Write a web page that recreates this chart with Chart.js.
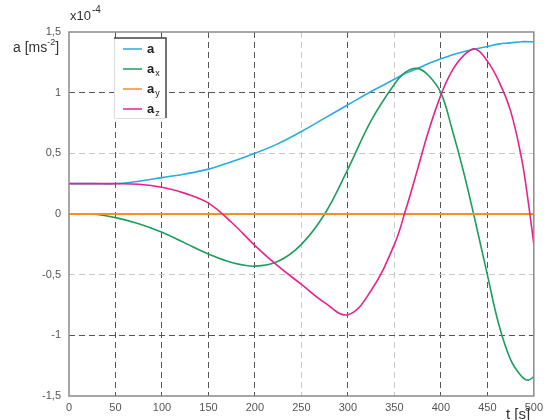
<!DOCTYPE html>
<html>
<head>
<meta charset="utf-8">
<script src="https://cdn.jsdelivr.net/npm/chart.js@4/dist/chart.umd.min.js"></script>
<style>
	body { margin: 0; background: #fff; }
	#wrap { width: 548px; height: 420px; }
</style>
</head>
<body>
<div id="wrap"><canvas id="chart" width="548" height="420"></canvas></div>
<script>
// time samples [s]
const T = [0, 25, 50, 75, 100, 125, 150, 175, 200, 225, 250, 275, 300, 325, 350, 362, 375, 387, 400, 412, 425, 437, 450, 462, 475, 487, 494, 500];

// values x10^-4 m/s^2
const A  = [0.25, 0.25, 0.25, 0.27, 0.30, 0.33, 0.37, 0.43, 0.50, 0.58, 0.68, 0.79, 0.90, 1.01, 1.11, 1.16, 1.20, 1.24, 1.28, 1.31, 1.34, 1.36, 1.38, 1.40, 1.41, 1.42, 1.42, 1.42];
const AX = [0, 0, -0.03, -0.08, -0.15, -0.24, -0.33, -0.40, -0.43, -0.39, -0.25, 0.0, 0.37, 0.77, 1.07, 1.17, 1.20, 1.14, 1.0, 0.70, 0.33, -0.06, -0.5, -0.9, -1.2, -1.34, -1.37, -1.34];
const AY = [0, 0, 0, 0, 0, 0, 0, 0, 0, 0, 0, 0, 0, 0, 0, 0, 0, 0, 0, 0, 0, 0, 0, 0, 0, 0, 0, 0];
const AZ = [0.25, 0.25, 0.25, 0.245, 0.22, 0.17, 0.09, -0.07, -0.26, -0.43, -0.58, -0.73, -0.83, -0.63, -0.25, 0.03, 0.37, 0.69, 0.98, 1.18, 1.31, 1.36, 1.26, 1.1, 0.85, 0.45, 0.1, -0.25];

const X_TICKS = [0, 50, 100, 150, 200, 250, 300, 350, 400, 450, 500];
const LIGHT_X = [250, 350];
const LIGHT_Y = [0.5, -0.5];

const SERIES = [
	{ name: 'a', sub: '', values: A, color: '#29abe2' },
	{ name: 'a', sub: 'x', values: AX, color: '#1e9e5c' },
	{ name: 'a', sub: 'y', values: AY, color: '#f7901e' },
	{ name: 'a', sub: 'z', values: AZ, color: '#e8228c' }
];

const FONT = '"Liberation Sans", Arial, sans-serif';

function toPoints(values) {
	return T.map((t, i) => ({ x: t, y: values[i] }));
}

// рамка, подписи осей и легенда
const decor = {
	id: 'decor',
	afterDraw(chart) {
		let ctx = chart.ctx;
		let area = chart.chartArea;
		ctx.save();

		ctx.strokeStyle = '#8a8a8a';
		ctx.lineWidth = 1.5;
		ctx.strokeRect(area.left, area.top, area.right - area.left, area.bottom - area.top);

		ctx.fillStyle = '#333';
		ctx.textBaseline = 'alphabetic';
		ctx.font = '13px ' + FONT;
		ctx.fillText('x10', 70, 20);
		let w = ctx.measureText('x10').width;
		ctx.font = '10px ' + FONT;
		ctx.fillText('-4', 70 + w + 1, 13);

		ctx.font = '14px ' + FONT;
		ctx.fillText('a [ms', 13, 52);
		w = ctx.measureText('a [ms').width;
		ctx.font = '9px ' + FONT;
		ctx.fillText('-2', 13 + w, 45);
		let w2 = ctx.measureText('-2').width;
		ctx.font = '14px ' + FONT;
		ctx.fillText(']', 13 + w + w2, 52);

		ctx.font = '15px ' + FONT;
		ctx.fillText('t [s]', 506, 419);

		// легенда
		let lx = 114, ly = 38, lw = 52, lh = 80;
		ctx.fillStyle = '#fff';
		ctx.fillRect(lx, ly, lw, lh);
		ctx.lineWidth = 1;
		ctx.strokeStyle = '#ddd';
		ctx.beginPath();
		ctx.moveTo(lx + 0.5, ly);
		ctx.lineTo(lx + 0.5, ly + lh + 0.5);
		ctx.lineTo(lx + lw, ly + lh + 0.5);
		ctx.stroke();
		ctx.strokeStyle = '#444';
		ctx.lineWidth = 1.5;
		ctx.beginPath();
		ctx.moveTo(lx, ly);
		ctx.lineTo(lx + lw, ly);
		ctx.lineTo(lx + lw, ly + lh);
		ctx.stroke();

		SERIES.forEach((s, i) => {
			let y = ly + 11 + i * 20;
			ctx.strokeStyle = s.color;
			ctx.lineWidth = 1.5;
			ctx.beginPath();
			ctx.moveTo(lx + 9, y);
			ctx.lineTo(lx + 28, y);
			ctx.stroke();
			ctx.fillStyle = '#222';
			ctx.font = 'bold 13px ' + FONT;
			ctx.fillText(s.name, lx + 33, y + 4);
			if (s.sub) {
				let bw = ctx.measureText(s.name).width;
				ctx.font = '9px ' + FONT;
				ctx.fillText(s.sub, lx + 33 + bw + 1, y + 7);
			}
		});

		ctx.restore();
	}
};

window.addEventListener('load', () => {
	let canvas = document.querySelector('#chart');

	let datasets = SERIES.map((s, i) => ({
		label: s.name + s.sub,
		data: toPoints(s.values),
		borderColor: s.color,
		backgroundColor: s.color,
		borderWidth: s.sub === 'y' ? 2 : 1.6,
		pointRadius: 0,
		tension: 0.4,
		order: SERIES.length - i
	}));

	new Chart(canvas, {
		type: 'line',
		data: { datasets: datasets },
		plugins: [decor],
		options: {
			responsive: false,
			animation: false,
			layout: {
				autoPadding: false,
				padding: { left: 0, top: 32, right: 7, bottom: 0 }
			},
			plugins: {
				legend: { display: false },
				tooltip: { enabled: false }
			},
			scales: {
				x: {
					type: 'linear',
					min: 0,
					max: 500,
					afterFit: (scale) => { scale.height = 24; },
					afterBuildTicks: (scale) => { scale.ticks = X_TICKS.map(v => ({ value: v })); },
					border: { display: false, dash: [6, 4] },
					grid: {
						drawTicks: false,
						lineWidth: 1,
						color: (c) => {
							let v = c.tick ? c.tick.value : null;
							if (v === 0 || v === 500) return 'rgba(0,0,0,0)';
							return LIGHT_X.includes(v) ? '#c8c8c8' : '#555';
						}
					},
					ticks: {
						padding: 5,
						color: '#555',
						font: { size: 11, family: FONT },
						maxRotation: 0,
						autoSkip: false,
						callback: (v) => String(v)
					}
				},
				y: {
					min: -1.5,
					max: 1.5,
					afterFit: (scale) => { scale.width = 69; },
					border: { display: false, dash: [6, 4] },
					grid: {
						drawTicks: false,
						lineWidth: 1,
						color: (c) => {
							let v = c.tick ? c.tick.value : null;
							if (v === 1.5 || v === -1.5) return 'rgba(0,0,0,0)';
							return LIGHT_Y.includes(v) ? '#c8c8c8' : '#555';
						}
					},
					ticks: {
						stepSize: 0.5,
						padding: 8,
						color: '#555',
						font: { size: 11, family: FONT },
						callback: (v) => String(Math.round(v * 10) / 10).replace('.', ',')
					}
				}
			}
		}
	});
});
</script>
</body>
</html>
